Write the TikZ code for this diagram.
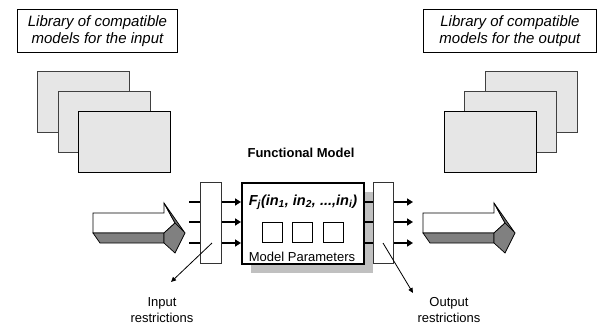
\documentclass[tikz,border=0pt]{standalone}
\usepackage{fontspec}
\setmainfont{Liberation Sans}
\usetikzlibrary{arrows.meta}

\definecolor{pagegray}{HTML}{E6E6E6}
\definecolor{shadowgray}{HTML}{C0C0C0}
\definecolor{facegray}{HTML}{808080}
\definecolor{sidegray}{HTML}{6A6A6A}

\tikzset{
  libbox/.style={draw=black, line width=0.9pt, fill=white, anchor=north west,
    inner sep=0pt, align=center,
    font=\fontsize{15}{17.5}\selectfont\itshape},
  page/.style={draw=black!75, line width=0.9pt, fill=pagegray, anchor=north west,
    minimum width=92pt, minimum height=61pt, inner sep=0pt},
  frontpage/.style={page, draw=black},
  fmbox/.style={draw=black, line width=2pt, fill=white, anchor=north west,
    minimum width=122pt, minimum height=81pt, inner sep=0pt},
  bar/.style={draw=black!80, line width=0.8pt, fill=white, anchor=north west,
    minimum height=81pt, inner sep=0pt},
  param/.style={draw=black, line width=0.8pt, fill=white,
    minimum width=20pt, minimum height=20pt, inner sep=0pt},
  sig/.style={line width=1.7pt, -{Triangle[length=6pt,width=7pt]}},
  restr/.style={line width=0.8pt, -{Triangle[length=5pt,width=4.5pt]}},
  lbl/.style={align=center, inner sep=0pt, font=\fontsize{13}{16}\selectfont},
  bigarrow/.pic={
    % front face of the block arrow
    \draw[black, line width=0.7pt, fill=white]
      (93,213) -- (164,213) -- (164,203) -- (175,223) -- (164,233) -- (93,233) -- cycle;
    % underside of the shaft
    \draw[black, line width=0.7pt, fill=facegray]
      (93,233) -- (164,233) -- (164,243) -- (100,243) -- cycle;
    % upper slanted side of the head
    \draw[black, line width=0.7pt, fill=sidegray]
      (164,203) -- (185,233) -- (175,223) -- cycle;
    % lower face of the head
    \draw[black, line width=0.7pt, fill=facegray]
      (164,233) -- (175,223) -- (185,233) -- (175,253) -- (164,243) -- cycle;
  }
}

\begin{document}
\begin{tikzpicture}[x=1pt, y=-1pt]
\useasboundingbox (0,0) rectangle (598,327);

% libraries of compatible models
\node[libbox, minimum width=160pt, minimum height=43pt] (libin) at (17,9)
  {Library of compatible\\models for the input};
\node[libbox, minimum width=173pt, minimum height=43pt] (libout) at (423,9)
  {Library of compatible\\models for the output};

\node[page] (pin1) at (37,71) {};
\node[page] (pin2) at (58,91) {};
\node[frontpage] (pin3) at (78,111) {};

\node[page] (pout1) at (485,71) {};
\node[page] (pout2) at (464,91) {};
\node[frontpage] (pout3) at (444,111) {};

% functional model
\node[font=\fontsize{13}{15}\selectfont\bfseries] (title) at (301,153) {Functional Model};

\coordinate (fmnw) at (241,182);
\fill[shadowgray] ([shift={(10,10)}]fmnw) rectangle ([shift={(132,91)}]fmnw);

% input and output signals
\coordinate (in1) at (189,202);
\coordinate (in2) at (189,222);
\coordinate (in3) at (189,243);
\coordinate (out1) at (413,202);
\coordinate (out2) at (413,222);
\coordinate (out3) at (413,243);

\node[fmbox] (fm) at (fmnw) {};
\foreach \i in {1,2,3} {
  \draw[sig] (in\i) -- (fm.west |- in\i);
  \draw[sig] (fm.east |- out\i) -- (out\i);
}

\node[font=\fontsize{14.5}{16}\selectfont\bfseries\itshape] (func) at (303,202)
  {F\textsubscript{j}(in\textsubscript{1}, in\textsubscript{2}, ...,in\textsubscript{i})};
\node[param] (par1) at (272,232) {};
\node[param] (par2) at (302,232) {};
\node[param] (par3) at (333,232) {};
\node[lbl] (parlbl) at (302,257) {Model Parameters};

% restriction bars
\node[bar, minimum width=21pt] (ibar) at (200,182) {};
\node[bar, minimum width=20pt] (obar) at (373,182) {};

\node[lbl] (ilbl) at (162,310) {Input\\restrictions};
\node[lbl] (olbl) at (449,310) {Output\\restrictions};
\coordinate (ifrom) at (212,243);
\coordinate (ito) at (171,282);
\coordinate (ofrom) at (383,243);
\coordinate (oto) at (413,293);
\draw[restr] (ifrom) -- (ito);
\draw[restr] (ofrom) -- (oto);

% block arrows
\pic at (0,0) {bigarrow};
\pic at (330,0) {bigarrow};
\end{tikzpicture}
\end{document}
